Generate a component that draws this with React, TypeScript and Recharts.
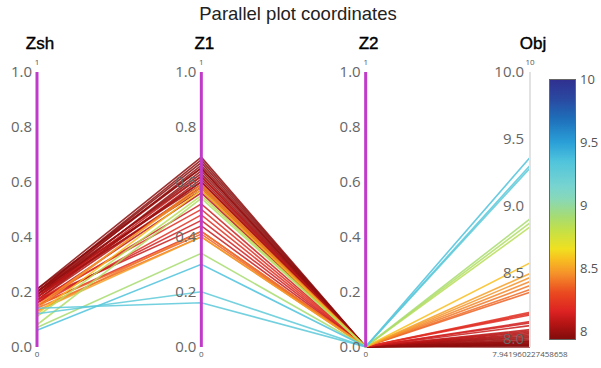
import React from "react";
import {
  LineChart,
  Line,
  XAxis,
  YAxis,
  ReferenceLine,
  ReferenceDot,
} from "recharts";

const axisNames = ["Zsh", "Z1", "Z2", "Obj"];
const axisTopLabels = ["1", "1", "1", "10"];
const axisBottomLabels = ["0", "0", "0", "7.941960227458658"];
const unitTicks = [0, 0.2, 0.4, 0.6, 0.8, 1.0];
const objTicks = [8.0, 8.5, 9.0, 9.5, 10.0];
const colorbarTicks = [10, 9.5, 9, 8.5, 8];

const OBJ_MIN = 7.941960227458658;
const OBJ_MAX = 10;

// one entry per design (line)
const zshValues = [
  0.21, 0.2, 0.2, 0.19, 0.21, 0.18, 0.19, 0.2, 0.17, 0.19, 0.18, 0.2, 0.17,
  0.18, 0.19, 0.16, 0.18, 0.2, 0.16, 0.17, 0.15, 0.16, 0.17, 0.15, 0.15, 0.14,
  0.13, 0.14, 0.15, 0.13, 0.12, 0.11, 0.08, 0.07, 0.06, 0.12, 0.14,
];
const z1Values = [
  0.69, 0.68, 0.67, 0.66, 0.65, 0.64, 0.63, 0.62, 0.61, 0.6, 0.6, 0.59, 0.58,
  0.58, 0.57, 0.56, 0.62, 0.65, 0.52, 0.5, 0.48, 0.46, 0.44, 0.42, 0.41, 0.4,
  0.42, 0.59, 0.58, 0.4, 0.57, 0.55, 0.54, 0.34, 0.3, 0.2, 0.16,
];
const z2Values = [
  0, 0, 0, 0, 0, 0, 0, 0, 0, 0, 0, 0, 0, 0, 0, 0, 0, 0, 0, 0, 0, 0, 0, 0, 0,
  0, 0, 0, 0, 0, 0, 0, 0, 0, 0, 0, 0,
];
const objValues = [
  7.95, 7.96, 7.94, 7.97, 7.95, 7.98, 7.96, 7.99, 8.0, 8.02, 8.03, 7.97, 8.04,
  8.05, 8.01, 8.06, 8.07, 7.98, 8.12, 8.19, 8.2, 8.13, 8.1, 8.18, 8.35, 8.37,
  8.4, 8.43, 8.46, 8.49, 8.57, 8.84, 8.87, 8.9, 9.36, 9.28, 9.3,
];

// colour scale of the Obj value
const colorStops: [number, string][] = [
  [7.94, "#860c0c"],
  [8.05, "#b41414"],
  [8.15, "#dc2222"],
  [8.3, "#ea4a20"],
  [8.45, "#f5902a"],
  [8.57, "#f8c020"],
  [8.65, "#f0e020"],
  [8.8, "#c4e048"],
  [8.9, "#a8dc70"],
  [9.05, "#88d8b8"],
  [9.15, "#78d4d0"],
  [9.35, "#50c4dc"],
  [9.5, "#2aa0d8"],
  [9.7, "#1e6cb8"],
  [9.85, "#2a48a0"],
  [10, "#303090"],
];

const hexToRgb = (h: string) => [
  parseInt(h.slice(1, 3), 16),
  parseInt(h.slice(3, 5), 16),
  parseInt(h.slice(5, 7), 16),
];

const colorFor = (v: number) => {
  if (v <= colorStops[0][0]) return colorStops[0][1];
  for (let i = 1; i < colorStops.length; i++) {
    const [v1, c1] = colorStops[i];
    const [v0, c0] = colorStops[i - 1];
    if (v <= v1) {
      const t = (v - v0) / (v1 - v0);
      const a = hexToRgb(c0);
      const b = hexToRgb(c1);
      const m = a.map((x, k) => Math.round(x + (b[k] - x) * t));
      return `rgb(${m[0]},${m[1]},${m[2]})`;
    }
  }
  return colorStops[colorStops.length - 1][1];
};

const toUnit = (obj: number) => (obj - OBJ_MIN) / (OBJ_MAX - OBJ_MIN);

const chartData = axisNames.map((name, k) => {
  const row: Record<string, number | string> = { x: k, name };
  zshValues.forEach((_, i) => {
    row[`p${i}`] =
      k === 0
        ? zshValues[i]
        : k === 1
        ? z1Values[i]
        : k === 2
        ? z2Values[i]
        : toUnit(objValues[i]);
  });
  return row;
});

const FONT = "'Open Sans', Arial, sans-serif";
const TITLE_FONT = "'Liberation Sans', Arial, sans-serif";
const MAGENTA = "#c13bc9";

const CB_TOP = 79;
const CB_HEIGHT = 261;
const CB_MIN = 7.93;
const cbY = (v: number) => CB_TOP + ((10 - v) / (10 - CB_MIN)) * CB_HEIGHT;

const App: React.FC = () => {
  const gradient = colorStops
    .slice()
    .reverse()
    .map(([v, c]) => `${c} ${(((10 - v) / (10 - CB_MIN)) * 100).toFixed(1)}%`)
    .join(", ");

  return (
    <div
      style={{
        position: "absolute",
        left: 0,
        top: 0,
        width: 601,
        height: 368,
        background: "#fff",
        fontFamily: FONT,
      }}
    >
      <div
        style={{
          position: "absolute",
          top: 3,
          left: 0,
          width: 596,
          textAlign: "center",
          fontSize: 18.5,
          lineHeight: "22px",
          color: "#222",
          fontFamily: TITLE_FONT,
        }}
      >
        Parallel plot coordinates
      </div>
      <LineChart
        width={601}
        height={368}
        data={chartData}
        margin={{ top: 42, right: 71, bottom: 1, left: 37 }}
      >
        <XAxis
          xAxisId="top"
          orientation="top"
          dataKey="x"
          type="number"
          domain={[0, 3]}
          ticks={[0, 1, 2, 3]}
          tickFormatter={(v: number) => axisNames[v]}
          axisLine={false}
          tickLine={false}
          tickSize={0}
          tickMargin={23}
          height={30}
          tick={{
            fontSize: 17,
            fill: "#000",
            stroke: "#000",
            strokeWidth: 0.4,
            fontFamily: TITLE_FONT,
            dx: 3,
          }}
        />
        <XAxis
          xAxisId="bottom"
          orientation="bottom"
          dataKey="x"
          type="number"
          domain={[0, 3]}
          ticks={[0, 1, 2, 3]}
          tickFormatter={(v: number) => axisBottomLabels[v]}
          axisLine={false}
          tickLine={false}
          tickSize={0}
          tickMargin={4}
          height={20}
          tick={{ fontSize: 8, fill: "#555", fontFamily: FONT }}
        />
        <YAxis hide domain={[0, 1]} type="number" />

        {zshValues.map((_, i) => (
          <Line
            key={i}
            xAxisId="bottom"
            dataKey={`p${i}`}
            type="linear"
            stroke={colorFor(objValues[i])}
            strokeWidth={1.6}
            strokeOpacity={0.85}
            dot={false}
            activeDot={false}
            isAnimationActive={false}
          />
        ))}

        {[0, 1, 2].map((k) => (
          <ReferenceLine
            key={`ax${k}`}
            xAxisId="bottom"
            x={k}
            stroke={MAGENTA}
            strokeWidth={3}
          />
        ))}
        <ReferenceLine xAxisId="bottom" x={3} stroke="#e2e2e2" strokeWidth={2} />

        {[0, 1, 2].map((k) =>
          unitTicks.map((t) => (
            <ReferenceDot
              key={`t${k}-${t}`}
              xAxisId="bottom"
              x={k}
              y={t}
              r={0}
              stroke="none"
              fill="none"
              label={{
                value: t.toFixed(1),
                position: "left",
                offset: 5,
                fontSize: 15,
                fill: "#666",
                fontFamily: FONT,
              }}
            />
          ))
        )}
        {objTicks.map((t) => (
          <ReferenceDot
            key={`o${t}`}
            xAxisId="bottom"
            x={3}
            y={toUnit(t)}
            r={0}
            stroke="none"
            fill="none"
            label={{
              value: t.toFixed(1),
              position: "left",
              offset: 6,
              fontSize: 15,
              fill: "#666",
              fontFamily: FONT,
            }}
          />
        ))}
        {axisTopLabels.map((l, k) => (
          <ReferenceDot
            key={`top${k}`}
            xAxisId="bottom"
            x={k}
            y={1}
            r={0}
            stroke="none"
            fill="none"
            label={{
              value: l,
              position: "top",
              offset: 7,
              fontSize: 8,
              fill: "#555",
              fontFamily: FONT,
            }}
          />
        ))}
      </LineChart>

      <div
        style={{
          position: "absolute",
          left: 549,
          top: CB_TOP,
          width: 27,
          height: CB_HEIGHT,
          boxSizing: "border-box",
          border: "1px solid #666",
          background: `linear-gradient(to bottom, ${gradient})`,
        }}
      />
      {colorbarTicks.map((v) => (
        <div
          key={`cb${v}`}
          style={{
            position: "absolute",
            left: 580,
            top: cbY(v) - 9,
            fontSize: 13,
            lineHeight: "18px",
            color: "#555",
          }}
        >
          {v}
        </div>
      ))}
    </div>
  );
};

export default App;
